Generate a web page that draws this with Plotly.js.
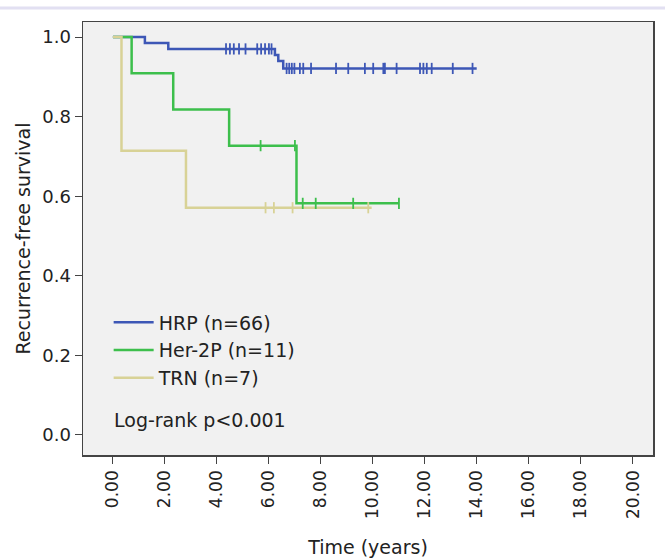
<!DOCTYPE html>
<html>
<head>
<meta charset="utf-8">
<script src="https://cdn.plot.ly/plotly-3.0.1.min.js"></script>
<style>html,body{margin:0;padding:0;background:#fff;}#chart{width:665px;height:560px;}</style>
</head>
<body>
<div id="chart"></div>
<script>
// Kaplan-Meier step points (time in years, survival)
const hrpT = [0, 1.23, 2.13, 6.23, 6.36, 6.55, 13.99];
const hrpS = [1.0, 0.985, 0.970, 0.955, 0.940, 0.921, 0.921];
const herT = [0, 0.72, 2.32, 4.47, 7.06, 11.0];
const herS = [1.0, 0.909, 0.818, 0.727, 0.582, 0.582];
const trnT = [0, 0.33, 2.81, 9.95];
const trnS = [1.0, 0.714, 0.571, 0.571];

// Censoring marks
const hrpCensT = [4.35, 4.5, 4.65, 4.85, 5.1, 5.55, 5.7, 5.85, 6.0, 6.1,
                  6.68, 6.78, 6.88, 6.98, 7.19, 7.32, 7.62, 8.58, 9.05, 9.69, 10.01, 10.40, 10.46, 10.91, 11.81, 11.94, 12.07, 12.26, 13.07, 13.83];
const hrpCensS = [0.970, 0.970, 0.970, 0.970, 0.970, 0.970, 0.970, 0.970, 0.970, 0.970,
                  0.921, 0.921, 0.921, 0.921, 0.921, 0.921, 0.921, 0.921, 0.921, 0.921, 0.921, 0.921, 0.921, 0.921, 0.921, 0.921, 0.921, 0.921, 0.921, 0.921];
const herCensT = [5.68, 7.0, 7.3, 7.8, 9.24, 11.0];
const herCensS = [0.727, 0.727, 0.582, 0.582, 0.582, 0.582];
const trnCensT = [5.87, 6.19, 6.91, 9.82];
const trnCensS = [0.571, 0.571, 0.571, 0.571];

const seriesNames = ['HRP (n=66)', 'Her-2P (n=11)', 'TRN (n=7)'];
const colors = ['#3d57b6', '#3dbf4c', '#d8d296'];
const xTicks = [0, 2, 4, 6, 8, 10, 12, 14, 16, 18, 20];
const yTicks = [0, 0.2, 0.4, 0.6, 0.8, 1.0];

const curves = [[hrpT, hrpS], [herT, herS], [trnT, trnS]];
const cens = [[hrpCensT, hrpCensS], [herCensT, herCensS], [trnCensT, trnCensS]];

const traces = [];
curves.forEach((c, i) => {
  traces.push({
    x: c[0], y: c[1], type: 'scatter', mode: 'lines', name: seriesNames[i],
    line: {shape: 'hv', color: colors[i], width: 2.5}, legendgroup: 'g' + i
  });
});
cens.forEach((c, i) => {
  traces.push({
    x: c[0], y: c[1], type: 'scatter', mode: 'markers', showlegend: false, legendgroup: 'g' + i,
    marker: {symbol: 'line-ns', size: 8, line: {color: colors[i], width: 1.8}}
  });
});

const FONT = 'DejaVu Sans, Verdana, sans-serif';
const layout = {
  width: 665, height: 560,
  margin: {l: 83, r: 12, t: 22, b: 105},
  paper_bgcolor: '#ffffff',
  plot_bgcolor: '#f1f1f1',
  font: {family: FONT, size: 19, color: '#222'},
  showlegend: true,
  legend: {x: 0.045, y: 0.35, xanchor: 'left', yanchor: 'top', bgcolor: 'rgba(0,0,0,0)',
           font: {family: FONT, size: 19, color: '#222'}, tracegroupgap: 0, itemwidth: 40},
  xaxis: {
    range: [-1.15, 20.77], tickvals: xTicks, tickformat: '.2f', tickangle: -90,
    ticks: 'outside', ticklen: 7, tickcolor: '#444', tickwidth: 1,
    showgrid: false, zeroline: false, showline: true, linecolor: '#444', linewidth: 1.5, mirror: true,
    title: {text: 'Time (years)', font: {family: FONT, size: 19, color: '#222'}, standoff: 22},
    tickfont: {family: FONT, size: 17, color: '#222'}
  },
  yaxis: {
    range: [-0.0503, 1.0377], tickvals: yTicks, tickformat: '.1f',
    ticks: 'outside', ticklen: 7, tickcolor: '#444', tickwidth: 1,
    showgrid: false, zeroline: false, showline: true, linecolor: '#444', linewidth: 1.5, mirror: true,
    title: {text: 'Recurrence-free survival', font: {family: FONT, size: 19, color: '#222'}, standoff: 6},
    tickfont: {family: FONT, size: 18, color: '#222'}
  },
  annotations: [{
    text: 'Log-rank p<0.001', xref: 'paper', yref: 'paper', x: 0.05, y: 0.081,
    xanchor: 'left', yanchor: 'middle', showarrow: false,
    font: {family: FONT, size: 19, color: '#222'}
  }],
  shapes: [{
    type: 'line', xref: 'paper', yref: 'paper', x0: -0.2, x1: 1.1, y0: 1.0323, y1: 1.0323,
    line: {color: '#e2e0f2', width: 3}
  }]
};

Plotly.newPlot('chart', traces, layout, {displayModeBar: false, staticPlot: true});
</script>
</body>
</html>
